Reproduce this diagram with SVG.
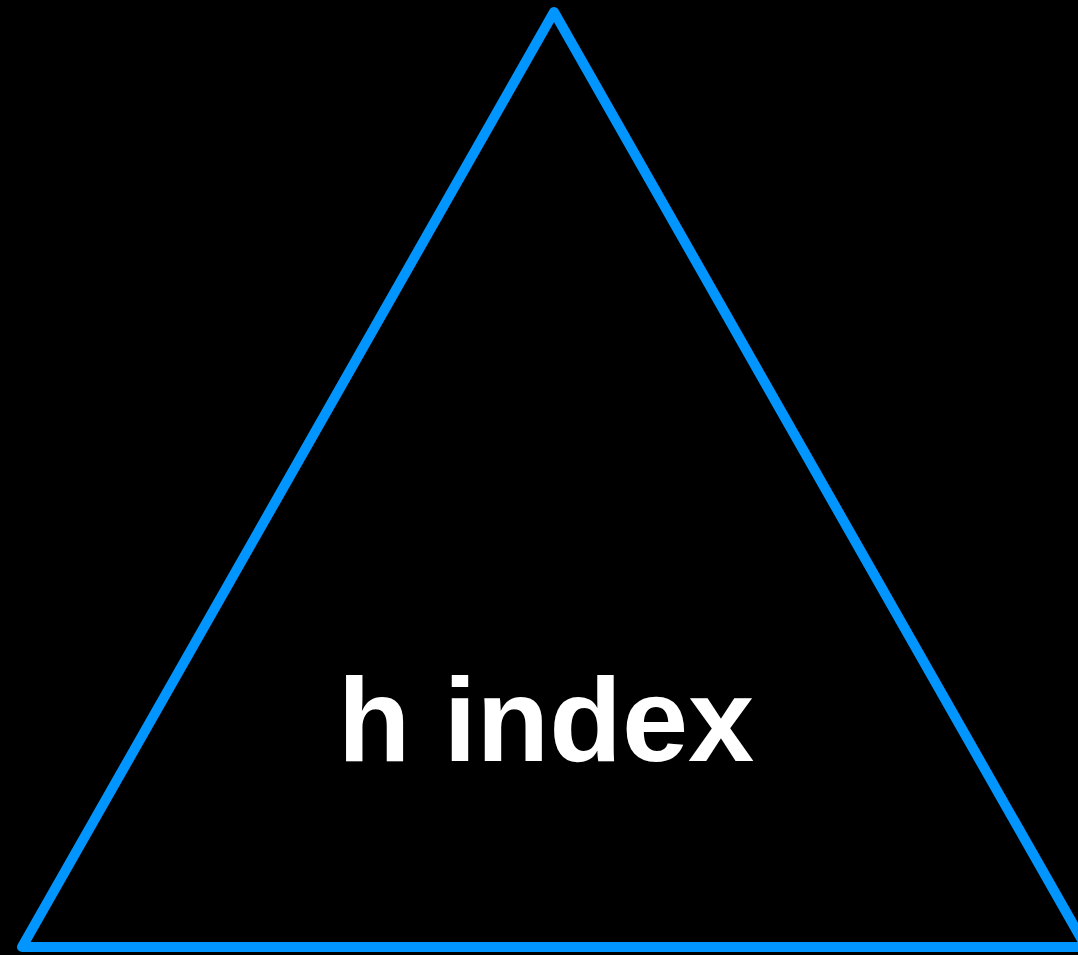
<svg xmlns="http://www.w3.org/2000/svg" width="1078" height="955" viewBox="0 0 1078 955">
<style>
.tri{fill:#000;stroke:#0095ff;stroke-width:10;stroke-linejoin:round;stroke-linecap:round}
.lbl{fill:#fff;font-family:"Liberation Sans",Arial,sans-serif;font-weight:bold;font-size:119px;text-anchor:middle}
</style>
<rect width="1078" height="955" fill="#000"/>
<g id="node-triangle">
<polygon class="tri" points="554,12 1086,947 22,947"/>
<text class="lbl" x="546" y="761">h index</text>
</g>
<g id="connectors"/>
</svg>
